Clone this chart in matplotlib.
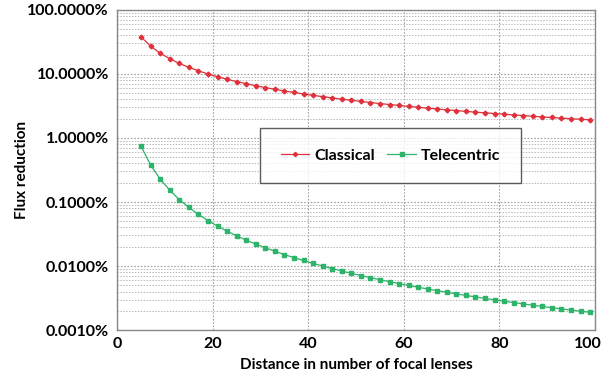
import numpy as np
import matplotlib.pyplot as plt
from matplotlib.ticker import FuncFormatter, LogLocator, NullFormatter
from matplotlib.transforms import ScaledTranslation

plt.rcParams['font.family'] = ['Lato', 'DejaVu Sans']
plt.rcParams['font.weight'] = 'bold'

# distance in focal lengths
distance = list(range(5, 100, 2))

# flux reduction in percent
classical = [38.0, 27.1, 21.1, 17.3, 14.6, 12.7, 11.2, 10.0, 9.05, 8.26,
             7.60, 7.04, 6.55, 6.13, 5.76, 5.43, 5.14, 4.87, 4.63, 4.42,
             4.22, 4.04, 3.88, 3.73, 3.58, 3.45, 3.33, 3.22, 3.11, 3.02,
             2.92, 2.84, 2.75, 2.68, 2.60, 2.53, 2.47, 2.41, 2.35, 2.29,
             2.24, 2.18, 2.13, 2.09, 2.04, 2.00, 1.96, 1.92]
telecentric = [0.740, 0.378, 0.228, 0.153, 0.109, 0.0822, 0.0640, 0.0512,
               0.0420, 0.0350, 0.0296, 0.0254, 0.0220, 0.0193, 0.0170,
               0.0151, 0.0135, 0.0122, 0.0110, 0.0100, 0.00914, 0.00837,
               0.00771, 0.00711, 0.00659, 0.00612, 0.00569, 0.00531,
               0.00497, 0.00466, 0.00438, 0.00412, 0.00389, 0.00367,
               0.00347, 0.00329, 0.00312, 0.00296, 0.00282, 0.00269,
               0.00256, 0.00244, 0.00234, 0.00223, 0.00214, 0.00205,
               0.00197, 0.00189]

fig = plt.figure(figsize=(6.04, 3.82), dpi=100)
ax = fig.add_axes([0.194, 0.136, 0.791, 0.838])

ax.plot(distance, classical, color='#e0303a', lw=0.9, marker='D', ms=2.4,
        label='Classical')
ax.plot(distance, telecentric, color='#2db36a', lw=0.9, marker='s', ms=2.6,
        label='Telecentric')

ax.set_yscale('log')
ax.set_xlim(0, 100)
ax.set_ylim(0.001, 100)
ax.set_xticks([0, 20, 40, 60, 80, 100])
ax.yaxis.set_major_locator(LogLocator(base=10, numticks=10))
ax.yaxis.set_minor_locator(LogLocator(base=10, subs=np.arange(2, 10), numticks=20))
ax.yaxis.set_minor_formatter(NullFormatter())
ax.yaxis.set_major_formatter(FuncFormatter(lambda v, p: '%.4f%%' % v))

ax.grid(True, which='major', color='#a0a0a0', ls=(0, (1.5, 1.5)), lw=0.8)
ax.grid(True, which='minor', axis='y', color='#b8b8b8', ls=(0, (1.5, 1.5)), lw=0.7)
for s in ax.spines.values():
    s.set_color('#888888')
    s.set_linewidth(1.0)
ax.tick_params(which='both', length=0, labelsize=11.5, pad=6)
ax.tick_params(axis='x', pad=5)

# nudge the last x label so it stays inside the figure
last = ax.get_xticklabels()[-1]
last.set_transform(last.get_transform() + ScaledTranslation(-5 / 72, 0, fig.dpi_scale_trans))

ax.set_xlabel('Distance in number of focal lenses', fontsize=11, fontweight='bold', labelpad=5)
ax.set_ylabel('Flux reduction', fontsize=11, fontweight='bold', labelpad=-1)

leg = ax.legend(loc='center', bbox_to_anchor=(0.572, 0.545), ncol=2, fontsize=11.5,
                frameon=True, fancybox=False, edgecolor='#333333',
                handlelength=1.8, handletextpad=0.3, columnspacing=0.8,
                borderpad=1.3, borderaxespad=0, markerscale=0.9)
leg.get_frame().set_linewidth(1.0)

fig.savefig('out.png', dpi=100)
